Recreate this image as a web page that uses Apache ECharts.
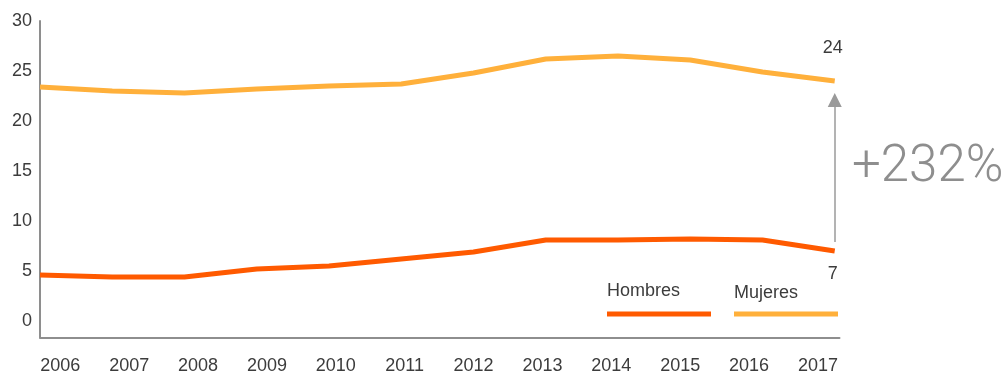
<!DOCTYPE html>
<html>
<head>
<meta charset="utf-8">
<style>
  html, body { margin: 0; padding: 0; background: #ffffff; }
  #chart { width: 1007px; height: 376px; }
</style>
<script src="https://cdn.jsdelivr.net/npm/echarts@6/dist/echarts.min.js"></script>
</head>
<body>
<div id="chart"></div>
<script>
// Años del periodo
const years = [2006, 2007, 2008, 2009, 2010, 2011, 2012, 2013, 2014, 2015, 2016, 2017];
// Serie de hombres
const hombres = [4.6, 4.4, 4.4, 5.2, 5.5, 6.2, 6.9, 8.1, 8.1, 8.2, 8.1, 7];
// Serie de mujeres
const mujeres = [23.4, 23.0, 22.8, 23.2, 23.5, 23.7, 24.8, 26.2, 26.5, 26.1, 24.9, 24];
// Marcas del eje vertical
const yTicks = [0, 5, 10, 15, 20, 25, 30];
// Etiquetas del eje horizontal
const yearLabels = years.map(String);

const FONT = "'Liberation Sans', Arial, sans-serif";
const TEXT = '#3c3c3c';
const AXIS = '#8e8e8e';
const ORANGE = '#ff5a00';
const YELLOW = '#ffb03b';
const last = years.length - 1;

function seriesData(values, label) {
  return years.map((y, i) => i === last
    ? { value: [y, values[i]], label: Object.assign({ show: true }, label) }
    : [y, values[i]]);
}

const endLabel = {
  color: TEXT, fontSize: 18, fontFamily: FONT,
  formatter: p => String(p.value[1])
};

const chart = echarts.init(document.getElementById('chart'), null, { renderer: 'canvas' });
chart.setOption({
  animation: false,
  grid: [
    { left: 40, right: 167.5, top: 21, bottom: 38.5 },
    { left: 25.86, right: 154.6, top: 21, bottom: 38.5 }
  ],
  xAxis: [
    {
      type: 'value', gridIndex: 0, min: 2006, max: 2017.066,
      axisLine: { show: true, onZero: false, lineStyle: { color: AXIS, width: 2 } },
      axisTick: { show: false }, axisLabel: { show: false }, splitLine: { show: false }
    },
    {
      type: 'category', gridIndex: 1, data: yearLabels, boundaryGap: true,
      axisLine: { show: false }, axisTick: { show: false }, splitLine: { show: false },
      axisLabel: { interval: 0, color: TEXT, fontSize: 18, fontFamily: FONT, margin: 20 }
    }
  ],
  yAxis: [
    {
      type: 'value', gridIndex: 0, min: -1.65, max: 30,
      axisLine: { show: true, onZero: false, lineStyle: { color: AXIS, width: 2 } },
      axisTick: { show: false }, splitLine: { show: false },
      axisLabel: { customValues: yTicks, color: TEXT, fontSize: 18, fontFamily: FONT, margin: 8 }
    },
    { type: 'value', gridIndex: 1, show: false, min: 0, max: 1 }
  ],
  series: [
    {
      name: 'Hombres', type: 'line', xAxisIndex: 0, yAxisIndex: 0,
      data: seriesData(hombres, Object.assign({ position: 'bottom', distance: 14, offset: [-2, 0] }, endLabel)),
      showSymbol: true, symbol: 'circle', symbolSize: 0,
      label: { show: false },
      lineStyle: { color: ORANGE, width: 5, cap: 'butt', join: 'round' },
      itemStyle: { color: ORANGE },
      markLine: {
        silent: true,
        symbol: ['none', 'triangle'],
        symbolSize: 14,
        label: { show: false },
        lineStyle: { color: '#9a9a9a', width: 1.5, type: 'solid' },
        data: [[
          { coord: [years[last], hombres[last] + 0.9] },
          { coord: [years[last], mujeres[last] - 1.9] }
        ]]
      },
      z: 3
    },
    {
      name: 'Mujeres', type: 'line', xAxisIndex: 0, yAxisIndex: 0,
      data: seriesData(mujeres, Object.assign({ position: 'top', distance: 24, offset: [-2, 0] }, endLabel)),
      showSymbol: true, symbol: 'circle', symbolSize: 0,
      label: { show: false },
      lineStyle: { color: YELLOW, width: 5, cap: 'butt', join: 'round' },
      itemStyle: { color: YELLOW },
      z: 3
    }
  ],
  graphic: [
    {
      type: 'text', z: 10,
      style: { x: 852, y: 168, text: '+232%', font: "300 51px Roboto, 'Liberation Sans', sans-serif",
               fill: '#8e8e8e', verticalAlign: 'middle', align: 'left' }
    },
    {
      type: 'text', z: 10,
      style: { x: 607, y: 291.5, text: 'Hombres', font: '18px ' + FONT, fill: TEXT, verticalAlign: 'middle' }
    },
    {
      type: 'rect', z: 10,
      shape: { x: 607, y: 311.5, width: 104, height: 5 },
      style: { fill: ORANGE }
    },
    {
      type: 'text', z: 10,
      style: { x: 734, y: 293.5, text: 'Mujeres', font: '18px ' + FONT, fill: TEXT, verticalAlign: 'middle' }
    },
    {
      type: 'rect', z: 10,
      shape: { x: 734, y: 311.5, width: 104, height: 5 },
      style: { fill: YELLOW }
    }
  ]
});
</script>
</body>
</html>
